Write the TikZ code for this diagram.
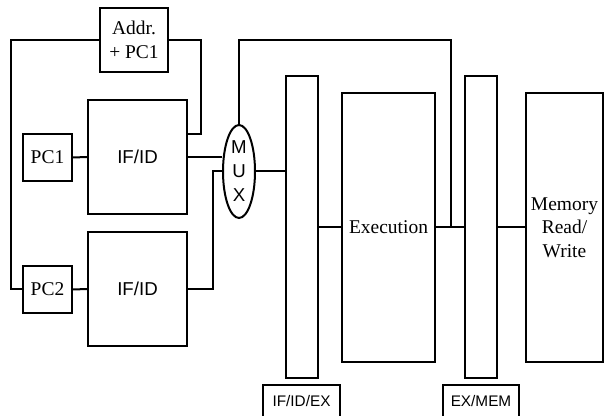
\documentclass[tikz,border=0pt]{standalone}
\usepackage{fontspec}
\setmainfont{Liberation Serif}
\setsansfont{Liberation Sans}
\usetikzlibrary{shapes.geometric,calc}

\begin{document}
\begin{tikzpicture}[x=0.75pt,y=-0.75pt,line width=1.5pt,
  blk/.style={draw,rectangle,inner sep=0pt,align=center},
  sz/.style 2 args={minimum width=0.75*#1pt,minimum height=0.75*#2pt},
  rm/.style={font=\fontsize{14.6}{17.6}\selectfont\rmfamily},
  sf/.style={font=\fontsize{14}{16}\selectfont\sffamily},
  tag/.style={font=\fontsize{11.5}{13}\selectfont\sffamily}]
\useasboundingbox (0,0) rectangle (606,416);
% front end
\node[blk,rm,sz={68}{64}] (addr) at (134,40) {Addr.\\+ PC1};
\node[blk,rm,sz={49}{47}] (pcA) at (47.5,157.5) {PC1};
\node[blk,sf,sz={99}{114}] (ifidA) at (137.5,157) {IF/ID};
\node[blk,rm,sz={49}{47}] (pcB) at (47.5,289.5) {PC2};
\node[blk,sf,sz={99}{114}] (ifidB) at (137.5,289) {IF/ID};
\node[draw,ellipse,inner sep=0pt,sz={32}{93},align=center,
  font=\fontsize{14}{18}\selectfont\sffamily] (mux) at (239,171.5) {M\\U\\X};
% pipeline
\node[blk,sz={32}{302}] (barA) at (302,227) {};
\node[blk,rm,sz={93}{269}] (exec) at (388.5,227.5) {Execution};
\node[blk,sz={32}{302}] (barB) at (481,227) {};
\node[blk,rm,sz={77}{269}] (mem) at (564.5,227.5) {Memory\\Read/\\Write};
\node[blk,tag,sz={77}{32}] (lblA) at (301.5,401) {IF/ID/EX};
\node[blk,tag,sz={76}{32}] (lblB) at (481,401) {EX/MEM};
\coordinate (tap) at (451,227.5);
% wires
\draw (pcA.east) -- (ifidA.west);
\draw (pcB.east) -- (ifidB.west);
\draw (addr.west) -- ++(-88,0) |- (pcB.west);
\draw (addr.east) -- ++(32,0) |- ($(ifidA.east)+(0,-23)$);
\draw (ifidA.east) -- (ifidA.east -| mux.west);
\draw (ifidB.east) -- ++(25,0) |- (mux.west);
\draw (mux.east) -- (mux.east -| barA.west);
\draw (mux.north) -- ++(0,-84) -| (tap);
\draw (barA.east) -- (barA.east -| exec.west);
\draw (exec.east) -- (exec.east -| barB.west);
\draw (barB.east) -- (barB.east -| mem.west);
\end{tikzpicture}
\end{document}
